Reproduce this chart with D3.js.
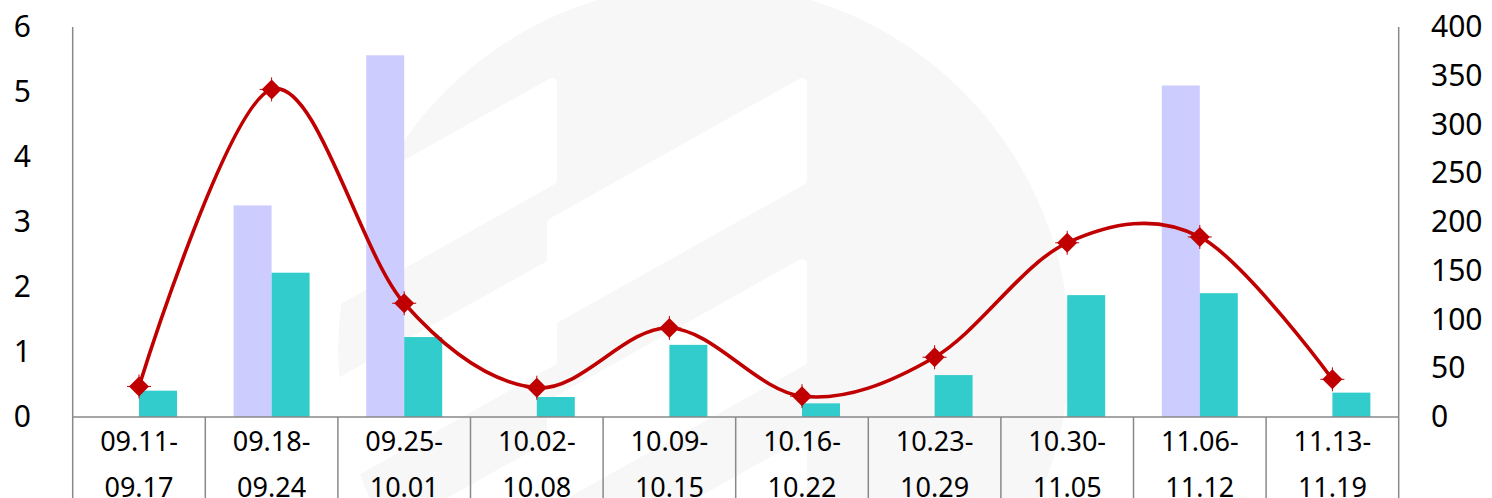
<!DOCTYPE html>
<html>
<head>
<meta charset="utf-8">
<script src="https://cdn.jsdelivr.net/npm/d3@7"></script>
<style>
  body { margin: 0; background: #fff; }
  svg { display: block; }
  text { font-family: "Noto Sans", sans-serif; fill: #000; }
</style>
</head>
<body>
<svg width="1492" height="498"></svg>
<script>
// weeks on the x axis
var weeks = ["09.11-09.17", "09.18-09.24", "09.25-10.01", "10.02-10.08", "10.09-10.15",
             "10.16-10.22", "10.23-10.29", "10.30-11.05", "11.06-11.12", "11.13-11.19"];
// bars (right axis)
var purpleVals = [0, 217, 371, 0, 0, 0, 0, 0, 340, 0];
var tealVals = [27, 148, 82, 20.5, 74, 14, 43, 125, 127, 25];
// line (left axis)
var lineVals = [0.47, 5.04, 1.75, 0.45, 1.37, 0.32, 0.92, 2.68, 2.77, 0.58];
// tick labels
var leftTicks = [0, 1, 2, 3, 4, 5, 6];
var rightTicks = [0, 50, 100, 150, 200, 250, 300, 350, 400];

var svg = d3.select("svg");
var W = 1492, H = 498;
var plotL = 72.7, plotR = 1398.7, plotT = 27, base = 417;

// faint round logo in the background
var wm = svg.append("g");
wm.append("clipPath").attr("id", "wmclip")
  .append("circle").attr("cx", 704).attr("cy", 350).attr("r", 366);
var wmg = wm.append("g").attr("clip-path", "url(#wmclip)");
wmg.append("circle").attr("cx", 704).attr("cy", 350).attr("r", 366).style("fill", "#f7f7f7");
// white slanted blocks, right edge vertical
var cols = [552, 802], rows = [83, 264, 445];
cols.forEach(function(c) {
  rows.forEach(function(t) {
    wmg.append("path")
      .attr("d", "M" + c + "," + t + " L" + c + "," + (t + 97) +
                 " L" + (c - 250) + "," + (t + 237) + " L" + (c - 250) + "," + (t + 140) + "Z")
      .style("fill", "#fff")
      .style("stroke", "#fff").style("stroke-width", 10).style("stroke-linejoin", "round");
  });
});

// scales
var x = d3.scaleBand().domain(weeks).range([plotL, plotR]).paddingInner(0).paddingOuter(0);
var xSub = d3.scaleBand().domain(["p", "t"]).range([0, x.bandwidth()]).paddingInner(0).paddingOuter(0.745);
var yL = d3.scaleLinear().domain([0, 6]).range([base, plotT]);
var yR = d3.scaleLinear().domain([0, 400]).range([base, plotT]);

// bars
svg.append("g").selectAll("rect").data(weeks).join("rect")
  .attr("x", function(d) { return x(d) + xSub("p"); })
  .attr("width", xSub.bandwidth())
  .attr("y", function(d, i) { return yR(purpleVals[i]); })
  .attr("height", function(d, i) { return base - yR(purpleVals[i]); })
  .style("fill", "#ccccff");
svg.append("g").selectAll("rect").data(weeks).join("rect")
  .attr("x", function(d) { return x(d) + xSub("t"); })
  .attr("width", xSub.bandwidth())
  .attr("y", function(d, i) { return yR(tealVals[i]); })
  .attr("height", function(d, i) { return base - yR(tealVals[i]); })
  .style("fill", "#33cccc");

// axes lines
var axisColor = "#898989";
svg.append("line").attr("x1", plotL).attr("x2", plotL).attr("y1", plotT).attr("y2", H)
  .style("stroke", axisColor).style("stroke-width", 1.5);
svg.append("line").attr("x1", plotR).attr("x2", plotR).attr("y1", plotT).attr("y2", H)
  .style("stroke", axisColor).style("stroke-width", 1.5);
svg.append("line").attr("x1", plotL).attr("x2", plotR).attr("y1", base).attr("y2", base)
  .style("stroke", axisColor).style("stroke-width", 1.5);
svg.append("g").selectAll("line").data(weeks.slice(1)).join("line")
  .attr("x1", function(d) { return x(d); }).attr("x2", function(d) { return x(d); })
  .attr("y1", base).attr("y2", H)
  .style("stroke", axisColor).style("stroke-width", 1.5);

// category labels, two lines each
var cat = svg.append("g").selectAll("text").data(weeks).join("text")
  .attr("text-anchor", "middle")
  .style("font-size", "27px");
cat.append("tspan")
  .attr("x", function(d) { return x(d) + x.bandwidth() / 2; })
  .attr("y", 450.5)
  .text(function(d) { return d.split("-")[0] + "-"; });
cat.append("tspan")
  .attr("x", function(d) { return x(d) + x.bandwidth() / 2; })
  .attr("y", 496.5)
  .text(function(d) { return d.split("-")[1]; });

// left axis
var axL = svg.append("g").attr("transform", "translate(31,0)")
  .call(d3.axisLeft(yL).tickValues(leftTicks).tickFormat(d3.format("d")).tickSize(0).tickPadding(0));
axL.select(".domain").remove();
axL.selectAll("text").style("font-size", "30px").style("font-family", "Noto Sans").attr("fill", "#000");

// right axis
var axR = svg.append("g").attr("transform", "translate(1431,0)")
  .call(d3.axisRight(yR).tickValues(rightTicks).tickSize(0).tickPadding(0));
axR.select(".domain").remove();
axR.selectAll("text").style("font-size", "30px").style("font-family", "Noto Sans").attr("fill", "#000");

// smoothed line
var line = d3.line()
  .x(function(d, i) { return x(weeks[i]) + x.bandwidth() / 2; })
  .y(function(d) { return yL(d); })
  .curve(d3.curveCatmullRom.alpha(0));
svg.append("path").datum(lineVals)
  .attr("d", line)
  .style("fill", "none").style("stroke", "#c00000").style("stroke-width", 3.6);

// diamond markers
var mk = svg.append("g").selectAll("g").data(lineVals).join("g")
  .attr("transform", function(d, i) {
    return "translate(" + (x(weeks[i]) + x.bandwidth() / 2) + "," + yL(d) + ")";
  });
mk.append("path").attr("d", "M0,-10L10,0L0,10L-10,0Z").style("fill", "#c00000");
mk.append("path").attr("d", "M-12,0H12M0,-12V12")
  .style("stroke", "#c00000").style("stroke-width", 1);
</script>
</body>
</html>
